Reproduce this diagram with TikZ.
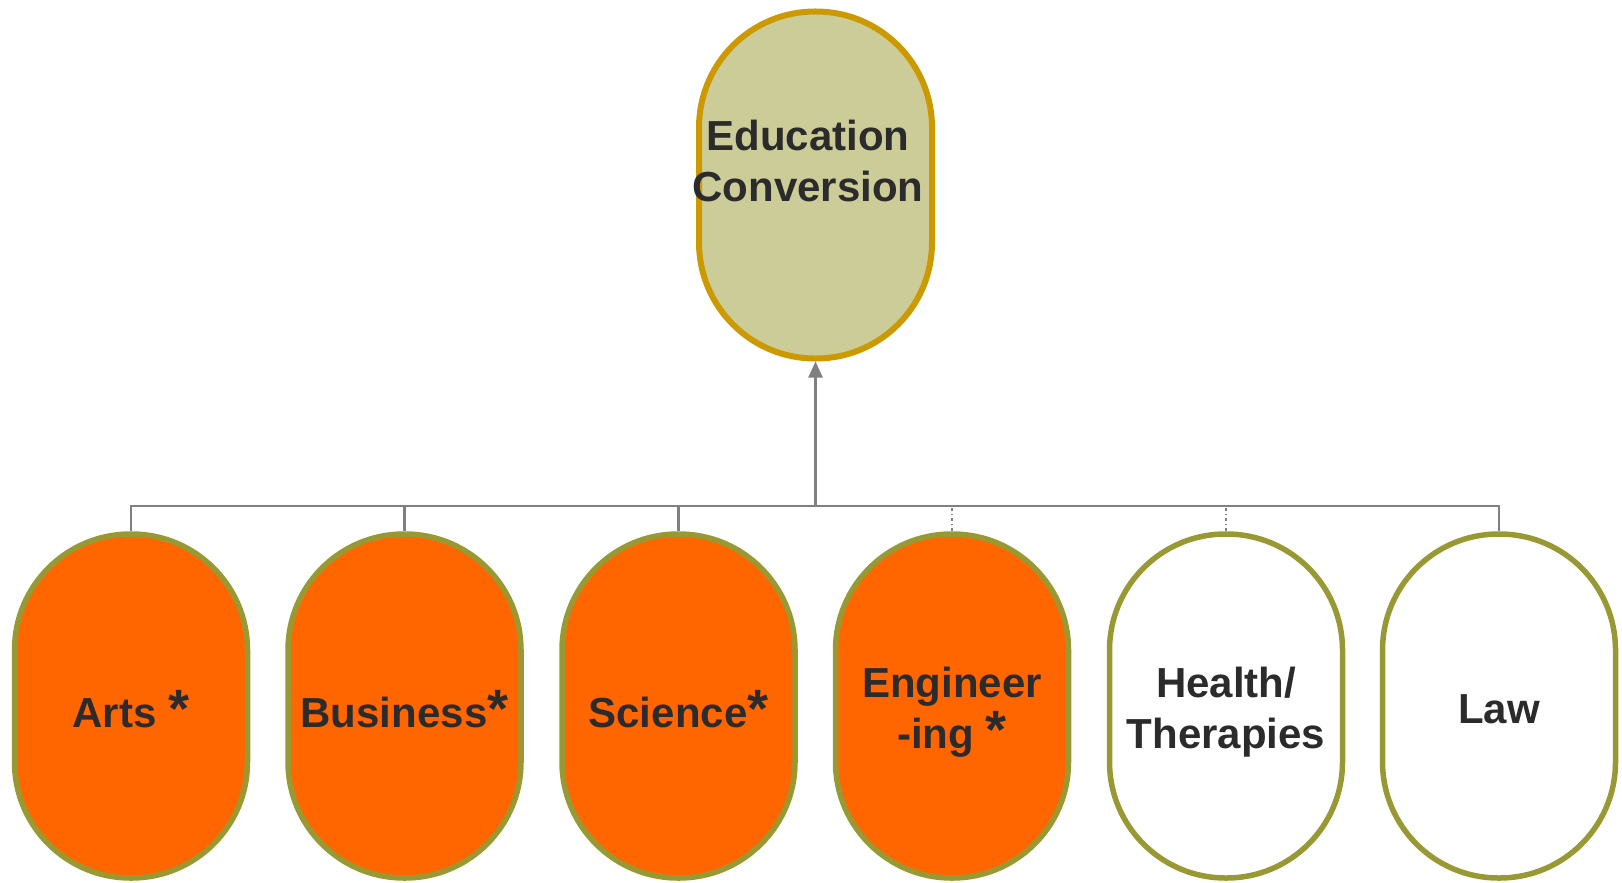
\documentclass[tikz,border=0pt]{standalone}
\usepackage{fontspec}
\setmainfont{Liberation Sans}
\usetikzlibrary{arrows.meta}
\definecolor{topfill}{HTML}{CCCC99}
\definecolor{topline}{HTML}{CC9900}
\definecolor{orfill}{HTML}{FF6600}
\definecolor{olivec}{HTML}{999933}
\definecolor{connc}{HTML}{808080}
\definecolor{txtc}{HTML}{2B2B2B}
\newcommand{\bigast}{{\fontsize{54}{54}\selectfont *}}
\begin{document}
\begin{tikzpicture}[x=1pt,y=-1pt,
 pill/.style={rounded corners=116pt, minimum width=233pt, minimum height=344pt, inner sep=0pt, line width=5.5pt},
 toppill/.style={pill, fill=topfill, draw=topline, line width=6pt, minimum height=347pt},
 hotpill/.style={pill, fill=orfill, draw=olivec},
 coolpill/.style={pill, fill=white, draw=olivec},
 lbl/.style={font=\fontsize{42}{51}\selectfont\bfseries, text=txtc, align=center, inner sep=0pt, anchor=base},
 link/.style={draw=connc, line width=2.5pt, line join=miter},
 dlink/.style={link, dash pattern=on 3pt off 3pt on 1pt off 3pt},
]
\useasboundingbox (0,0) rectangle (1622,883);

\node[toppill] (top) at (815.5,185) {};
\node[hotpill] (arts) at (131,706) {};
\node[hotpill] (bus) at (404.5,706) {};
\node[hotpill] (sci) at (678.5,706) {};
\node[hotpill] (eng) at (952,706) {};
\node[coolpill] (health) at (1226,706) {};
\node[coolpill] (law) at (1499,706) {};

\node[lbl] (topT) at (808,201) {Education\\Conversion};
\node[lbl] (artsT) at (131,727) {Arts \bigast};
\node[lbl] (busT) at (404.5,727) {Business\bigast};
\node[lbl] (sciT) at (678.5,727) {Science\bigast};
\node[lbl] (engT) at (952,748) {Engineer\\-ing \bigast};
\node[lbl] (healthT) at (1226,748) {Health/\\Therapies};
\node[lbl] (lawT) at (1499,723) {Law};

\coordinate (junc) at (815.5,506);

\draw[link] (arts.north) |- (junc);
\draw[link] (bus.north) |- (junc);
\draw[link] (sci.north) |- (junc);
\draw[link] (law.north) |- (junc);
\draw[dlink] (eng.north) |- (junc);
\draw[dlink] (health.north) |- (junc);
\draw[link, -{Triangle[width=14pt,length=16pt]}] (junc) -- (top.south);
\end{tikzpicture}
\end{document}
